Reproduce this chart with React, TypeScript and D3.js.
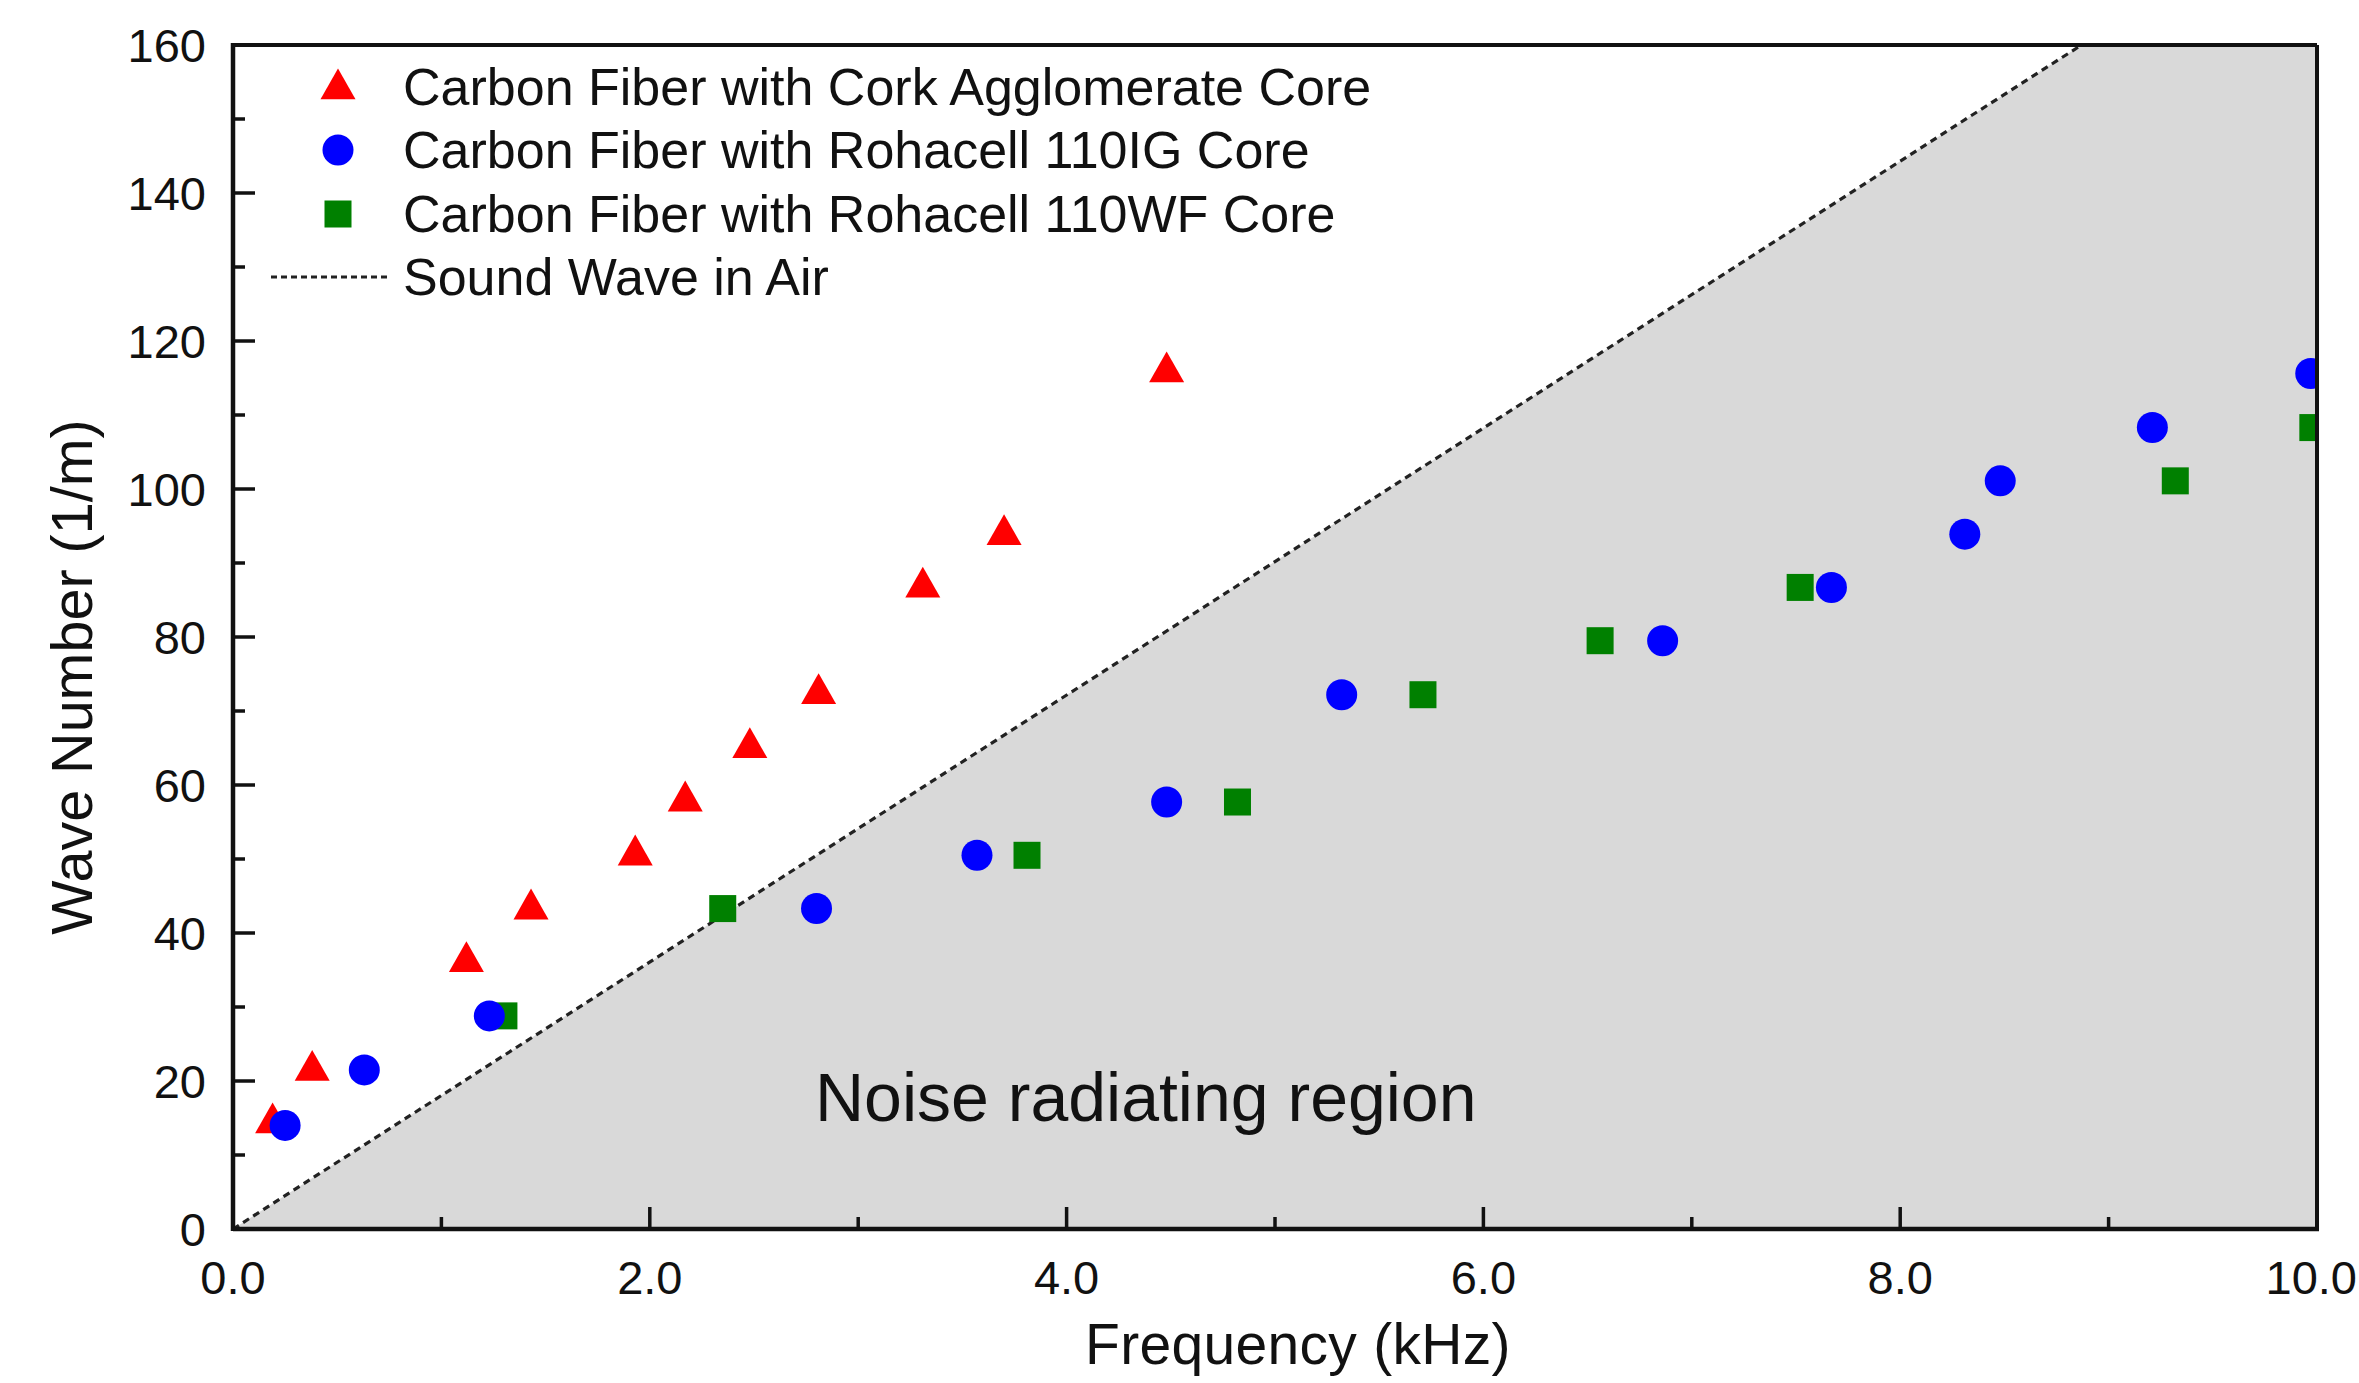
import React from "react";
import * as d3 from "d3";

const corkF = [0.19, 0.38, 1.12, 1.43, 1.93, 2.17, 2.48, 2.81, 3.31, 3.7, 4.48];
const corkK = [14.6, 21.7, 36.4, 43.5, 50.8, 58.1, 65.3, 72.6, 87.0, 94.1, 116.1];
const igF = [0.25, 0.63, 1.23, 2.8, 3.57, 4.48, 5.32, 6.86, 7.67, 8.31, 8.48, 9.21, 9.97];
const igK = [14.0, 21.5, 28.8, 43.3, 50.5, 57.7, 72.2, 79.5, 86.7, 93.9, 101.1, 108.3, 115.6];
const wfF = [1.3, 2.35, 3.81, 4.82, 5.71, 6.56, 7.52, 9.32, 9.98];
const wfK = [28.8, 43.3, 50.5, 57.7, 72.2, 79.5, 86.7, 101.1, 108.3];
const soundF = [0, 8.87];
const soundK = [0, 160];
const xTicks = [0, 2, 4, 6, 8, 10];
const xMinor = [1, 3, 5, 7, 9];
const yTicks = [0, 20, 40, 60, 80, 100, 120, 140, 160];
const yMinor = [10, 30, 50, 70, 90, 110, 130, 150];
const legendLabels = [
  "Carbon Fiber with Cork Agglomerate Core",
  "Carbon Fiber with Rohacell 110IG Core",
  "Carbon Fiber with Rohacell 110WF Core",
  "Sound Wave in Air",
];

const W = 2359;
const H = 1383;
const L = 233, R = 2317, T = 45, B = 1229;
const FONT = "'Liberation Sans', Arial, sans-serif";

const x = d3.scaleLinear().domain([0, 10]).range([L, R]);
const y = d3.scaleLinear().domain([0, 160]).range([B, T]);

const triSize = 35;
const circR = 15.5;
const sq = 27;

function Tri({ cx, cy }: { cx: number; cy: number }) {
  const h = triSize * 0.88;
  const p = `M${cx},${cy - h * 0.6} L${cx + triSize / 2},${cy + h * 0.4} L${cx - triSize / 2},${cy + h * 0.4} Z`;
  return <path d={p} fill="#ff0000" />;
}
function Circ({ cx, cy }: { cx: number; cy: number }) {
  return <circle cx={cx} cy={cy} r={circR} fill="#0000ff" />;
}
function Sq({ cx, cy }: { cx: number; cy: number }) {
  return <rect x={cx - sq / 2} y={cy - sq / 2} width={sq} height={sq} fill="#008000" />;
}

export default function App() {
  const line = d3
    .line<number>()
    .x((_, i) => x(soundF[i]))
    .y((_, i) => y(soundK[i]));
  const regionPts: [number, number][] = [
    [soundF[0], soundK[0]],
    [soundF[1], soundK[1]],
    [10, 160],
    [10, 0],
  ];
  const area = "M" + regionPts.map(([f, k]) => `${x(f)},${y(k)}`).join("L") + "Z";

  const legendY = [87, 150, 214, 277];
  const mx = 338;
  const tx = 403;

  return (
    <svg
      width={W}
      height={H}
      style={{ position: "absolute", left: 0, top: 0, background: "#fff" }}
      fontFamily={FONT}
    >
      <defs>
        <clipPath id="plot">
          <rect x={L} y={T} width={R - L} height={B - T} />
        </clipPath>
      </defs>
      <rect x={0} y={0} width={W} height={H} fill="#fff" />
      <path d={area} fill="#d9d9d9" />
      <path
        d={line(soundF) || ""}
        stroke="#222"
        strokeWidth={3.2}
        strokeDasharray="7,5"
        fill="none"
      />
      <g clipPath="url(#plot)">
        {corkF.map((f, i) => (
          <Tri key={"c" + i} cx={x(f)} cy={y(corkK[i])} />
        ))}
        {wfF.map((f, i) => (
          <Sq key={"w" + i} cx={x(f)} cy={y(wfK[i])} />
        ))}
        {igF.map((f, i) => (
          <Circ key={"g" + i} cx={x(f)} cy={y(igK[i])} />
        ))}
      </g>
      {/* frame */}
      <line x1={L} y1={T} x2={R} y2={T} stroke="#111" strokeWidth={4} />
      <line x1={R} y1={T} x2={R} y2={B} stroke="#111" strokeWidth={4} />
      <line x1={L} y1={B} x2={R + 2} y2={B} stroke="#111" strokeWidth={4.5} />
      <line x1={L} y1={T - 2} x2={L} y2={B + 2} stroke="#111" strokeWidth={4.5} />
      {/* x ticks */}
      {xTicks.map((t, i) => {
        const last = i === xTicks.length - 1;
        return (
          <g key={"xt" + t}>
            <line x1={x(t)} x2={x(t)} y1={B} y2={B - 22} stroke="#111" strokeWidth={3.5} />
            <text
              x={last ? W - 2 : x(t)}
              y={1294}
              fontSize={47}
              textAnchor={last ? "end" : "middle"}
              fill="#111"
            >
              {t.toFixed(1)}
            </text>
          </g>
        );
      })}
      {xMinor.map((t) => (
        <line key={"xm" + t} x1={x(t)} x2={x(t)} y1={B} y2={B - 12} stroke="#111" strokeWidth={3.5} />
      ))}
      {yTicks.map((t) => (
        <g key={"yt" + t}>
          <line x1={L} x2={L + 22} y1={y(t)} y2={y(t)} stroke="#111" strokeWidth={3.5} />
          <text x={206} y={y(t) + 17} fontSize={47} textAnchor="end" fill="#111">
            {t}
          </text>
        </g>
      ))}
      {yMinor.map((t) => (
        <line key={"ym" + t} x1={L} x2={L + 12} y1={y(t)} y2={y(t)} stroke="#111" strokeWidth={3.5} />
      ))}
      {/* axis titles */}
      <text x={1298} y={1364} fontSize={57} letterSpacing={0.3} textAnchor="middle" fill="#111">
        Frequency (kHz)
      </text>
      <text
        transform={`translate(92,${677}) rotate(-90)`}
        fontSize={57.5}
        textAnchor="middle"
        fill="#111"
      >
        Wave Number (1/m)
      </text>
      <text x={815} y={1121} fontSize={68} fill="#111">
        Noise radiating region
      </text>
      {/* legend */}
      <Tri cx={mx} cy={legendY[0]} />
      <Circ cx={mx} cy={legendY[1]} />
      <Sq cx={mx} cy={legendY[2]} />
      <line
        x1={271}
        x2={390}
        y1={legendY[3]}
        y2={legendY[3]}
        stroke="#222"
        strokeWidth={3}
        strokeDasharray="6,4"
      />
      {legendLabels.map((s, i) => (
        <text key={s} x={tx} y={legendY[i] + 18} fontSize={52} fill="#111">
          {s}
        </text>
      ))}
    </svg>
  );
}
